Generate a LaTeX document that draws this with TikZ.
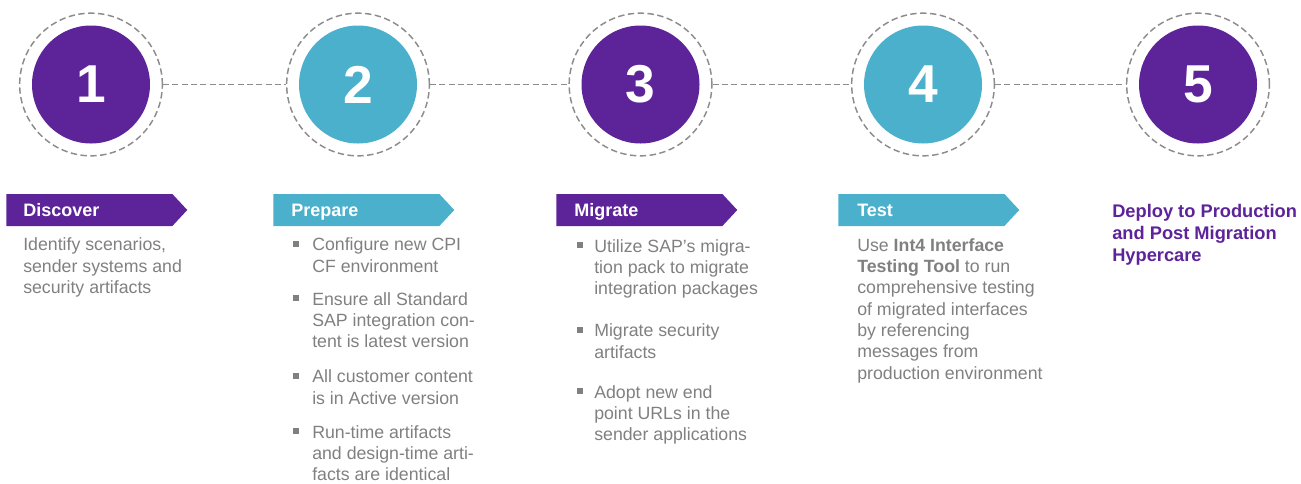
\documentclass[tikz,border=0pt]{standalone}
\usepackage{fontspec}
\setmainfont{Liberation Sans}
\usetikzlibrary{shapes.symbols}
\definecolor{stepviolet}{HTML}{5D2399}
\definecolor{stepteal}{HTML}{4AB0CC}
\definecolor{textgray}{HTML}{808080}
\definecolor{ringgray}{HTML}{8C8C8C}
\tikzstyle{ring} = [circle, draw=ringgray, line width=1.1pt, dash pattern=on 4.8pt off 2.6pt, minimum size=107pt, inner sep=0pt]
\tikzstyle{disc} = [circle, minimum size=88.5pt, inner sep=0pt, text=white, font=\fontsize{40}{40}\selectfont\bfseries]
\tikzstyle{banner} = [signal, signal to=east, signal pointer angle=94, minimum width=135.75pt, minimum height=24pt, inner sep=0pt, anchor=west]
\tikzstyle{heading} = [text=white, font=\fontsize{13.5}{14}\selectfont\bfseries, inner sep=0pt, anchor=base west]
\tikzstyle{body} = [text=textgray, font=\fontsize{13.3}{16}\selectfont, align=left, inner sep=0pt, anchor=base west]
\tikzstyle{bullet} = [rectangle, fill=textgray, minimum size=4.5pt, inner sep=0pt]
\tikzstyle{link} = [draw=ringgray, line width=1.1pt, dash pattern=on 4.5pt off 2.5pt]

\begin{document}
\begin{tikzpicture}[x=0.75pt, y=-0.75pt]

    \useasboundingbox (0,0) rectangle (1301,483);

    \node (ring1) [ring] at (91,84.5) {};
    \node (ring2) [ring] at (358,84.5) {};
    \node (ring3) [ring] at (640.5,84.5) {};
    \node (ring4) [ring] at (923,84.5) {};
    \node (ring5) [ring] at (1198,84.5) {};

    \node (step1) [disc, fill=stepviolet] at (ring1) {1};
    \node (step2) [disc, fill=stepteal] at (ring2) {2};
    \node (step3) [disc, fill=stepviolet] at (ring3) {3};
    \node (step4) [disc, fill=stepteal] at (ring4) {4};
    \node (step5) [disc, fill=stepviolet] at (ring5) {5};

    \draw [link] (ring1) -- (ring2);
    \draw [link] (ring2) -- (ring3);
    \draw [link] (ring3) -- (ring4);
    \draw [link] (ring4) -- (ring5);

    % phase banners
    \node (tag1) [banner, fill=stepviolet] at (6,210) {};
    \node (tag2) [banner, fill=stepteal] at (273,210) {};
    \node (tag3) [banner, fill=stepviolet] at (556,210) {};
    \node (tag4) [banner, fill=stepteal] at (838,210) {};

    \node (title1) [heading] at (23,216.5) {Discover};
    \node (title2) [heading] at (291,216.5) {Prepare};
    \node (title3) [heading] at (574,216.5) {Migrate};
    \node (title4) [heading] at (857,216.5) {Test};

    % discover (base = last line)
    \node (disc1) [body] at (23,293.5) {Identify scenarios,\\sender systems and\\security artifacts};

    % prepare
    \node (pb1) [bullet] at (295.5,243.5) {};
    \node (prep1) [body] at (312,272.3) {Configure new CPI\\CF environment};
    \node (pb2) [bullet] at (295.5,297.5) {};
    \node (prep2) [body] at (312,347.7) {Ensure all Standard\\SAP integration con-\\tent is latest version};
    \node (pb3) [bullet] at (295.5,375.5) {};
    \node (prep3) [body] at (312,404.3) {All customer content\\is in Active version};
    \node (pb4) [bullet] at (295.5,430.5) {};
    \node (prep4) [body] at (312,480.7) {Run-time artifacts\\and design-time arti-\\facts are identical};

    % migrate
    \node (mb1) [bullet] at (580,244.5) {};
    \node (mig1) [body] at (594,294.7) {Utilize SAP's migra-\\tion pack to migrate\\integration packages};
    \node (mb2) [bullet] at (580,329.5) {};
    \node (mig2) [body] at (594,358.3) {Migrate security\\artifacts};
    \node (mb3) [bullet] at (580,390.5) {};
    \node (mig3) [body] at (594,440.7) {Adopt new end\\point URLs in the\\sender applications};

    % test
    \node (test1) [body] at (857,379) {Use \textbf{Int4 Interface}\\\textbf{Testing Tool} to run\\comprehensive testing\\of migrated interfaces\\by referencing\\messages from\\production environment};

    % deploy
    \node (deploy) [body, text=stepviolet, font=\fontsize{13.7}{16.5}\selectfont\bfseries] at (1112,261) {Deploy to Production\\and Post Migration\\Hypercare};

\end{tikzpicture}
\end{document}
